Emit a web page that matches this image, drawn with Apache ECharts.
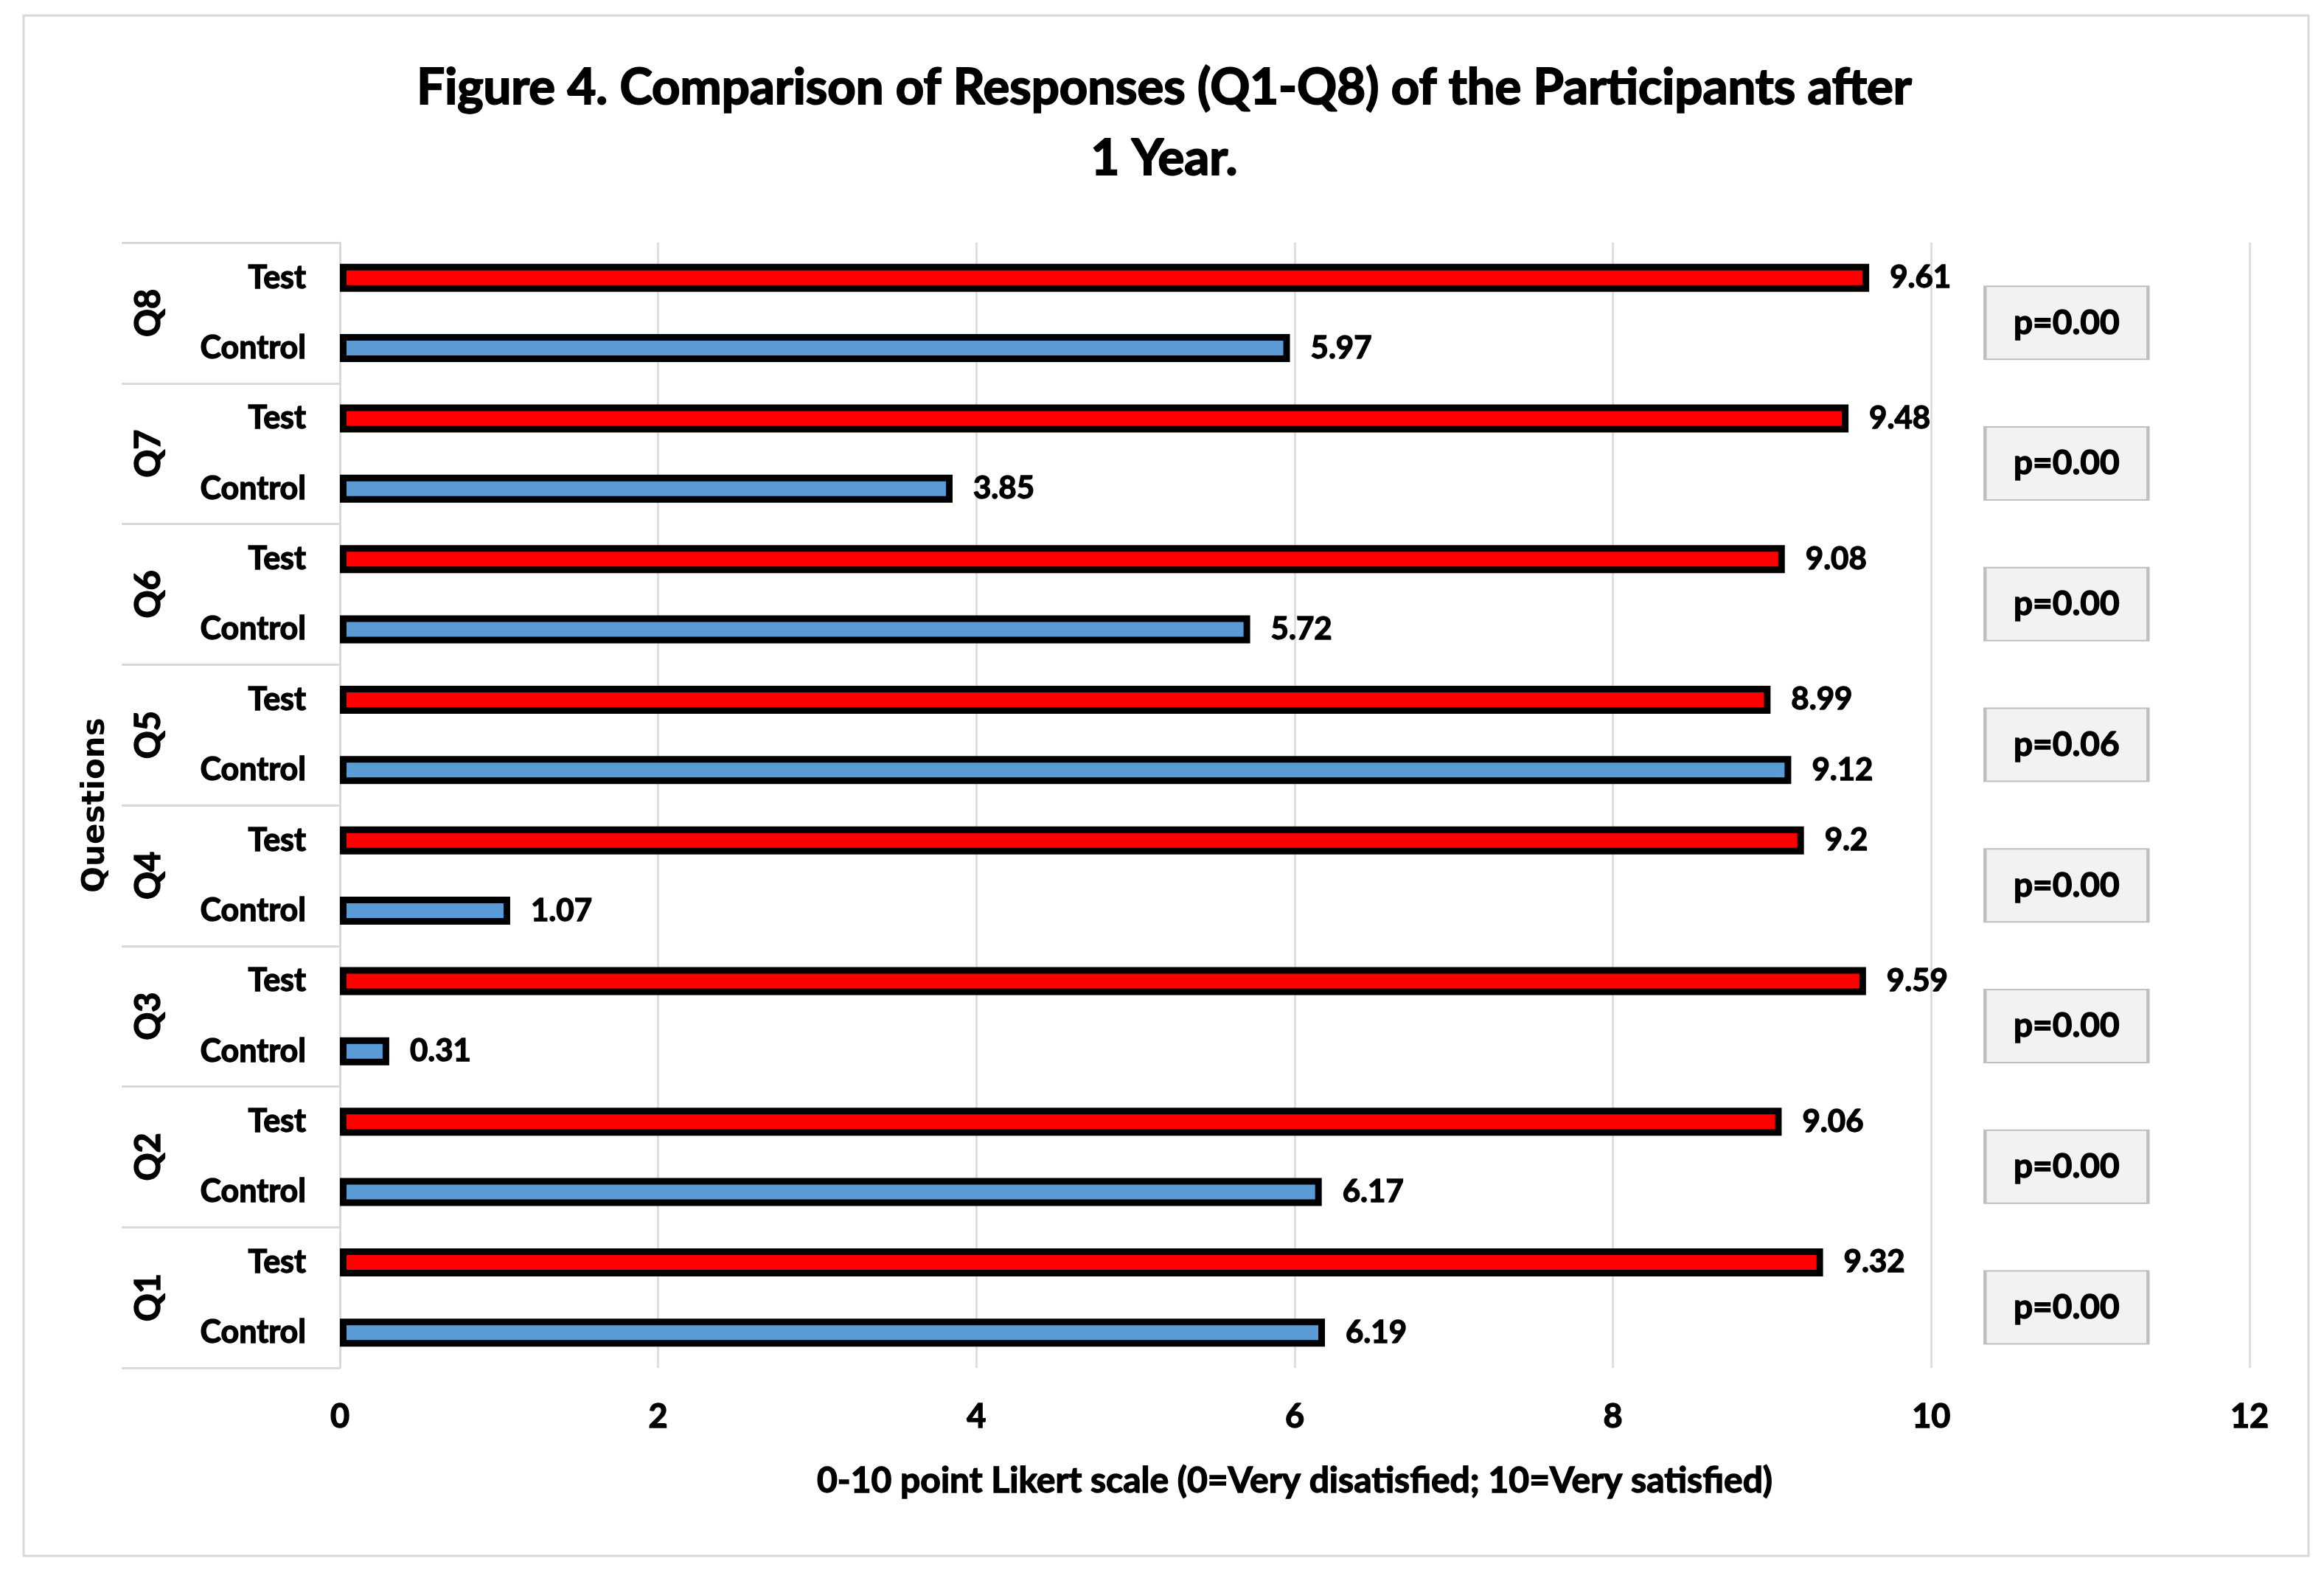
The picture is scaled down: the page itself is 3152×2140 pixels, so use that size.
<!DOCTYPE html>
<html>
<head>
<meta charset="utf-8">
<script src="https://cdn.jsdelivr.net/npm/echarts@6/dist/echarts.min.js"></script>
<style>
html,body{margin:0;padding:0;background:#fff;}
#chart{width:3152px;height:2140px;}
</style>
</head>
<body>
<div id="chart"></div>
<script>
// ---- data ----
const questions = ['Q1','Q2','Q3','Q4','Q5','Q6','Q7','Q8'];
const groups = ['Control','Test'];
const testValues = [9.32, 9.06, 9.59, 9.2, 8.99, 9.08, 9.48, 9.61];
const controlValues = [6.19, 6.17, 0.31, 1.07, 9.12, 5.72, 3.85, 5.97];
const pValues = [0.00, 0.00, 0.00, 0.00, 0.06, 0.00, 0.00, 0.00];
const xTicks = [0, 2, 4, 6, 8, 10, 12];

const FONT = "Lato,'Open Sans',sans-serif";
const W = 'bold';
const EMB = {textBorderColor: '#000', textBorderWidth: 1.4};

// build 16-slot sub-category axis (bottom to top)
const slots = [];
const testData = [];
const controlData = [];
questions.forEach((q, i) => {
  groups.forEach(g => {
    slots.push(q + '|' + g);
    testData.push(g === 'Test' ? testValues[i] : null);
    controlData.push(g === 'Control' ? controlValues[i] : null);
  });
});
const pData = questions.map((q, i) => [10.85, 2 * i + 1 - 0.14, pValues[i]]);

const chart = echarts.init(document.getElementById('chart'), null, {renderer: 'canvas'});

const barLabel = Object.assign({
  show: true,
  position: 'right',
  distance: 28,
  color: '#000',
  fontFamily: FONT,
  fontWeight: W,
  fontSize: 42,
  formatter: p => p.value == null ? '' : String(p.value)
}, EMB);

chart.setOption({
  backgroundColor: '#fff',
  animation: false,
  title: {
    text: 'Figure 4. Comparison of Responses (Q1-Q8) of the Participants after\n1 Year.',
    left: 1574,
    top: 66,
    textAlign: 'center',
    textStyle: Object.assign({
      fontFamily: FONT,
      fontWeight: W,
      fontSize: 67,
      lineHeight: 96,
      color: '#000'
    }, {textBorderColor: '#000', textBorderWidth: 2})
  },
  graphic: [{
    type: 'rect',
    shape: {x: 32, y: 21, width: 3099, height: 2089},
    style: {fill: 'none', stroke: '#D9D9D9', lineWidth: 3},
    silent: true,
    z: -10
  }],
  grid: {left: 461, right: 101, top: 329, bottom: 285},
  xAxis: {
    type: 'value',
    min: 0,
    max: 12,
    interval: 2,
    name: '0-10 point Likert scale (0=Very disatisfied; 10=Very satisfied)',
    nameLocation: 'middle',
    nameGap: 130,
    nameTextStyle: Object.assign({fontFamily: FONT, fontWeight: W, fontSize: 48, color: '#000'}, EMB),
    axisLine: {show: false},
    axisTick: {show: false},
    axisLabel: Object.assign({
      margin: 44,
      fontFamily: FONT, fontWeight: W, fontSize: 45, color: '#000',
      formatter: v => xTicks.indexOf(v) >= 0 ? String(v) : ''
    }, EMB),
    splitLine: {show: true, lineStyle: {color: '#D9D9D9', width: 2.5}}
  },
  yAxis: [{
    type: 'category',
    data: slots,
    position: 'left',
    axisLine: {show: true, lineStyle: {color: '#D9D9D9', width: 3}},
    axisTick: {show: false},
    axisLabel: Object.assign({
      margin: 46,
      fontFamily: FONT, fontWeight: W, fontSize: 43, color: '#000',
      formatter: v => v.split('|')[1]
    }, EMB),
    splitLine: {show: false}
  }, {
    type: 'category',
    data: questions,
    position: 'left',
    name: 'Questions',
    nameLocation: 'middle',
    nameRotate: 90,
    nameGap: 310,
    nameTextStyle: {fontFamily: "'DejaVu Sans',sans-serif", fontWeight: 'bold', fontSize: 42, color: '#000'},
    axisLine: {show: false},
    axisTick: {show: true, length: 296, lineStyle: {color: '#D9D9D9', width: 3}},
    axisLabel: Object.assign({
      rotate: 90,
      margin: 236,
      fontFamily: FONT, fontWeight: W, fontSize: 47, color: '#000'
    }, EMB),
    splitLine: {show: false}
  }, {
    type: 'value',
    min: 0,
    max: 16,
    show: false
  }],
  series: [{
    name: 'Test',
    type: 'bar',
    yAxisIndex: 0,
    data: testData,
    barWidth: 38,
    barGap: '-100%',
    itemStyle: {color: '#FF0000', borderColor: '#000', borderWidth: 9},
    label: barLabel
  }, {
    name: 'Control',
    type: 'bar',
    yAxisIndex: 0,
    data: controlData,
    barWidth: 38,
    barGap: '-100%',
    itemStyle: {color: '#5B9BD5', borderColor: '#000', borderWidth: 9},
    label: barLabel
  }, {
    name: 'p',
    type: 'scatter',
    xAxisIndex: 0,
    yAxisIndex: 2,
    data: pData,
    symbol: 'rect',
    symbolSize: [221, 99],
    silent: true,
    itemStyle: {color: '#F2F2F2', borderColor: '#BFBFBF', borderWidth: 3, opacity: 1},
    label: Object.assign({
      show: true,
      position: 'inside',
      color: '#000',
      fontFamily: FONT,
      fontWeight: W,
      fontSize: 46,
      formatter: p => 'p=' + p.value[2].toFixed(2)
    }, EMB),
    z: 5
  }]
});
</script>
</body>
</html>
